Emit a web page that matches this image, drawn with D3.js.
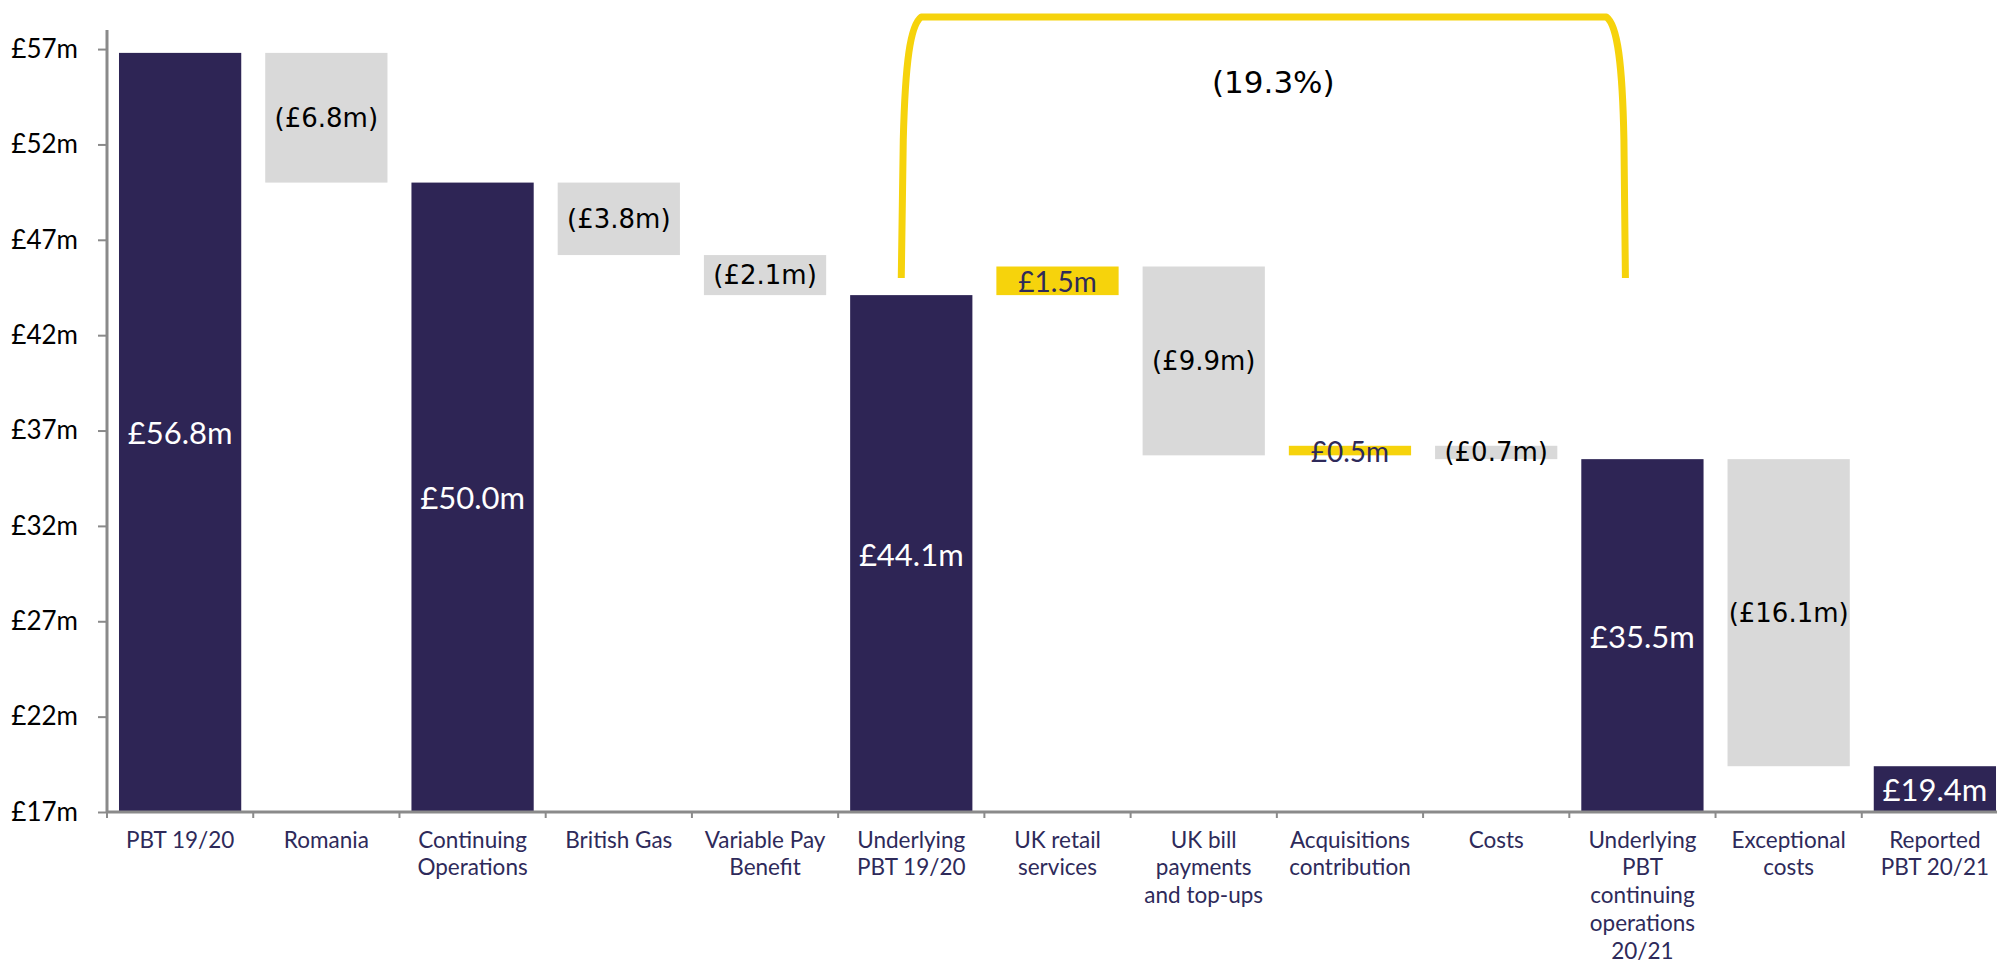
<!DOCTYPE html>
<html>
<head>
<meta charset="utf-8">
<script src="https://cdn.jsdelivr.net/npm/d3@7/dist/d3.min.js"></script>
<style>
  html, body { margin: 0; padding: 0; background: #ffffff; }
  svg { display: block; }
</style>
</head>
<body>
<svg id="chart" width="1997" height="963"></svg>
<script>
// Profit bridge: PBT 19/20 to reported PBT 20/21 (£m)
const categories = [
  "PBT 19/20", "Romania", "Continuing Operations", "British Gas", "Variable Pay Benefit",
  "Underlying PBT 19/20", "UK retail services", "UK bill payments and top-ups",
  "Acquisitions contribution", "Costs", "Underlying PBT continuing operations 20/21",
  "Exceptional costs", "Reported PBT 20/21"
];
const categoryLines = [
  ["PBT 19/20"], ["Romania"], ["Continuing", "Operations"], ["British Gas"],
  ["Variable Pay", "Benefit"], ["Underlying", "PBT 19/20"], ["UK retail", "services"],
  ["UK bill", "payments", "and top-ups"], ["Acquisitions", "contribution"], ["Costs"],
  ["Underlying", "PBT", "continuing", "operations", "20/21"], ["Exceptional", "costs"],
  ["Reported", "PBT 20/21"]
];
const barValues = [56.8, -6.8, 50.0, -3.8, -2.1, 44.1, 1.5, -9.9, 0.5, -0.7, 35.5, -16.1, 19.4];
const isTotal = [true, false, true, false, false, true, false, false, false, false, true, false, true];
const yTicks = [17, 22, 27, 32, 37, 42, 47, 52, 57];
const yDomain = [17, 58];
const bracketFrom = "Underlying PBT 19/20";
const bracketTo = "Underlying PBT continuing operations 20/21";
const bracketFootValue = 45.0;
const bracketLabel = "(19.3%)";

const NAVY = "#2e2555";
const NAVY_TEXT = "#2e2a5a";
const GREY = "#d9d9d9";
const YELLOW = "#f6d30c";
const AXIS = "#8a8a8a";

const svg = d3.select("#chart");
const plot = { left: 107, right: 2008, top: 30, bottom: 812 };

const x = d3.scaleBand()
  .domain(categories)
  .range([plot.left, plot.right])
  .paddingInner(0.164)
  .paddingOuter(0.082);

const y = d3.scaleLinear().domain(yDomain).range([plot.bottom, plot.top]);

// running totals for the waterfall
let running = 0;
const bars = categories.map((c, i) => {
  const v = barValues[i];
  let lo, hi, kind;
  if (isTotal[i]) {
    running = v;
    lo = yDomain[0]; hi = v; kind = "total";
  } else {
    const start = running;
    running = +(running + v).toFixed(1);
    lo = Math.min(start, running); hi = Math.max(start, running);
    kind = v < 0 ? "down" : "up";
  }
  return { cat: c, value: v, lo, hi, kind };
});

const fmt = d => {
  const a = Math.abs(d.value).toFixed(1);
  return d.value < 0 ? `(£${a}m)` : `£${a}m`;
};
const fill = { total: NAVY, down: GREY, up: YELLOW };

// bars
svg.append("g").selectAll("rect").data(bars).join("rect")
  .attr("x", d => x(d.cat))
  .attr("width", x.bandwidth())
  .attr("y", d => y(d.hi))
  .attr("height", d => y(d.lo) - y(d.hi))
  .attr("fill", d => fill[d.kind]);

// value labels
svg.append("g").selectAll("text").data(bars).join("text")
  .attr("x", d => x(d.cat) + x.bandwidth() / 2)
  .attr("y", d => (y(d.lo) + y(d.hi)) / 2)
  .attr("text-anchor", "middle")
  .attr("dominant-baseline", "central")
  .style("font-family", d => d.kind === "down" ? "'DejaVu Sans', sans-serif" : "Lato, sans-serif")
  .style("font-size", d => d.kind === "total" ? "31px" : d.kind === "up" ? "28px" : "26px")
  .attr("fill", d => d.kind === "total" ? "#ffffff" : d.kind === "up" ? NAVY_TEXT : "#000000")
  .text(fmt);

// y axis
const yAxis = svg.append("g")
  .attr("transform", `translate(${plot.left},0)`)
  .call(d3.axisLeft(y).tickValues(yTicks).tickSize(9).tickPadding(20)
    .tickFormat(d => `£${d}m`));
yAxis.select(".domain").attr("stroke", AXIS).attr("stroke-width", 3).attr("d", `M0,${plot.top}V${plot.bottom}`);
yAxis.selectAll(".tick line").attr("stroke", AXIS).attr("stroke-width", 2);
yAxis.selectAll(".tick text")
  .style("font-family", "Lato, sans-serif").style("font-size", "26px").attr("fill", "#000000");

// x axis: baseline, boundary ticks, wrapped category labels
const xAxis = svg.append("g").attr("transform", `translate(0,${plot.bottom})`);
xAxis.append("line")
  .attr("x1", plot.left).attr("x2", plot.right)
  .attr("stroke", AXIS).attr("stroke-width", 3);
const step = x.step();
xAxis.selectAll(".bound").data(d3.range(categories.length + 1)).join("line")
  .attr("class", "bound")
  .attr("x1", i => plot.left + i * step).attr("x2", i => plot.left + i * step)
  .attr("y1", 0).attr("y2", 6)
  .attr("stroke", AXIS).attr("stroke-width", 2);
const lab = xAxis.selectAll(".cat").data(categories).join("text")
  .attr("class", "cat")
  .attr("text-anchor", "middle")
  .style("font-family", "Lato, sans-serif").style("font-size", "22.5px")
  .attr("fill", NAVY_TEXT);
lab.each(function (c, i) {
  const t = d3.select(this);
  categoryLines[i].forEach((line, k) => {
    t.append("tspan")
      .attr("x", x(c) + x.bandwidth() / 2)
      .attr("y", 27 + k * 27.8)
      .attr("dominant-baseline", "central")
      .text(line);
  });
});

// bracket over the underlying PBT change
const bx0 = x(bracketFrom) + x.bandwidth() / 2 - 10;
const bx1 = x(bracketTo) + x.bandwidth() / 2 - 17;
const byFoot = y(bracketFootValue);
const byTop = 17;
const bracketPath = [
  `M${bx0},${byFoot}`,
  `L${bx0 + 2},${byTop + 123}`,
  `C${bx0 + 4},${byTop + 45} ${bx0 + 9},${byTop + 8} ${bx0 + 20},${byTop}`,
  `L${bx1 - 19},${byTop}`,
  `C${bx1 - 8},${byTop + 8} ${bx1 - 3},${byTop + 45} ${bx1 - 1.5},${byTop + 123}`,
  `L${bx1},${byFoot}`
].join(" ");
svg.append("path")
  .attr("d", bracketPath)
  .attr("fill", "none")
  .attr("stroke", YELLOW)
  .attr("stroke-width", 7)
  .attr("stroke-linejoin", "round");
svg.append("text")
  .attr("x", (bx0 + bx1) / 2 + 10)
  .attr("y", 82)
  .attr("text-anchor", "middle")
  .attr("dominant-baseline", "central")
  .style("font-family", "'DejaVu Sans', sans-serif")
  .style("font-size", "31px")
  .attr("fill", "#000000")
  .text(bracketLabel);
</script>
</body>
</html>
